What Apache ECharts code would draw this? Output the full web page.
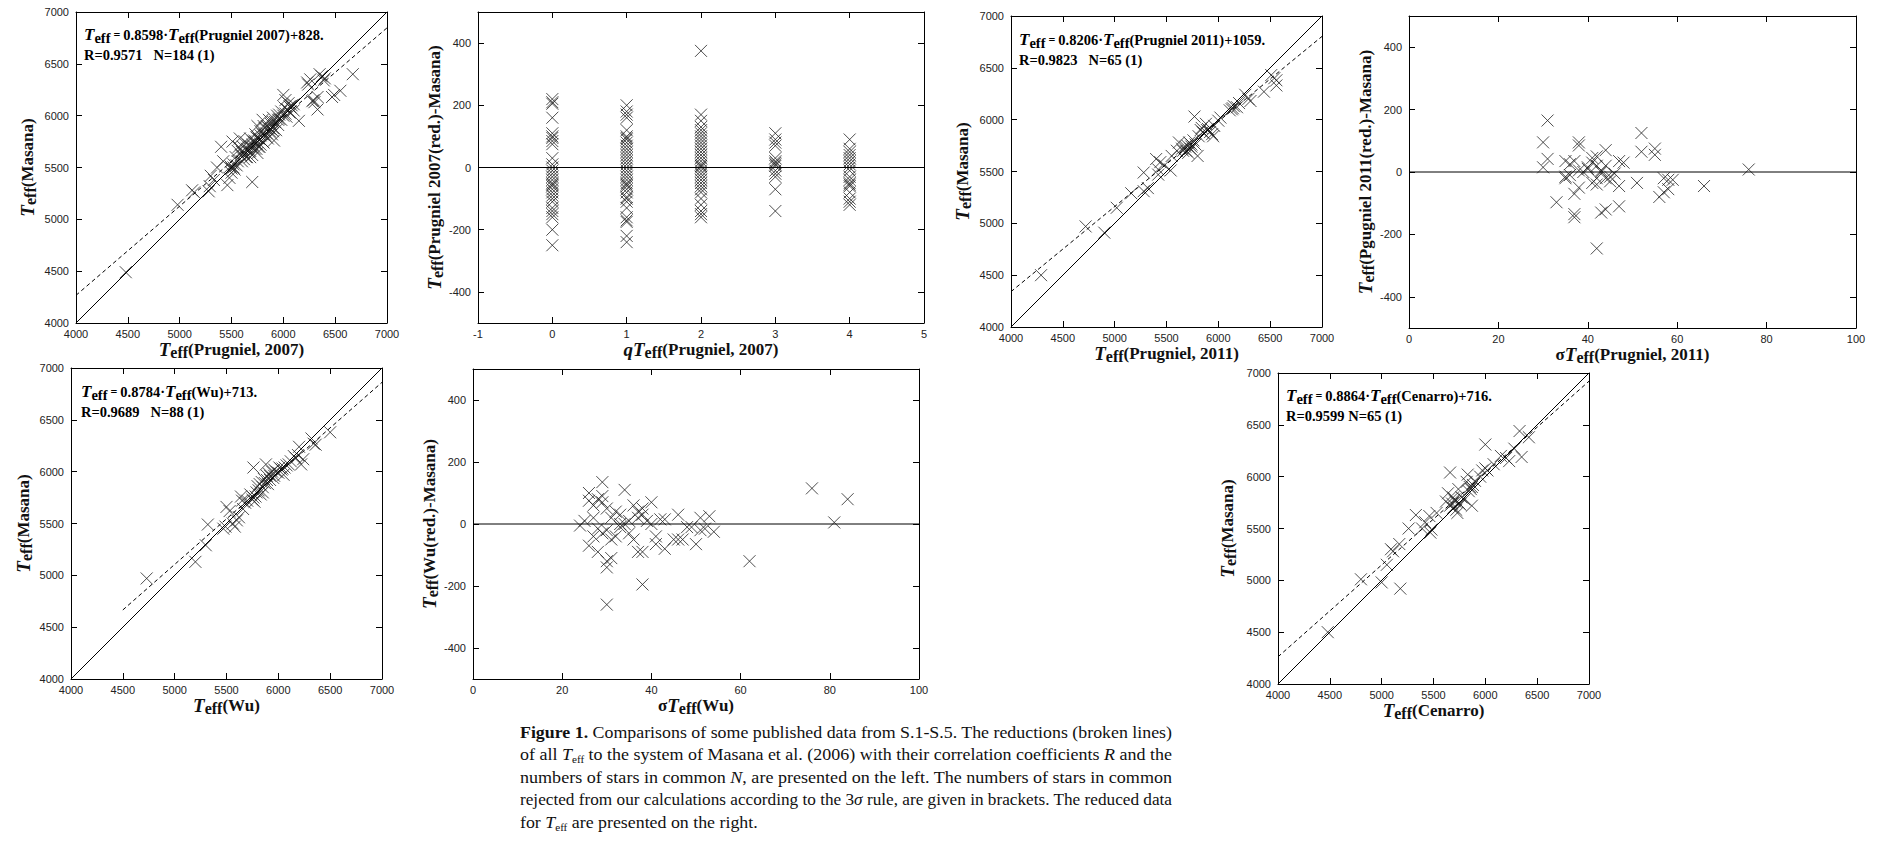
<!DOCTYPE html>
<html lang="en">
<head>
<meta charset="utf-8" />
<title>Figure 1. Teff comparisons</title>
<script src="https://cdn.jsdelivr.net/npm/echarts@6/dist/echarts.min.js"></script>
<style>
	html, body { margin: 0; padding: 0; background: #fff; }
	#chart { position: absolute; left: 0; top: 0; width: 1895px; height: 847px; }
	#caption { position: absolute; left: 520px; top: 721px; width: 700px;
		font-family: 'Liberation Serif', 'Times New Roman', serif; font-size: 17.5px; line-height: 22.4px; color: #111; }
	#caption div { white-space: nowrap; }
	#caption span.ln { display: inline-block; transform-origin: 0 0; }
	#caption sub { font-size: 0.62em; vertical-align: -0.25em; line-height: 0; }
</style>
</head>
<body>
<div id="chart"></div>
<div id="caption">
	<div><span class="ln"><b>Figure 1.</b> Comparisons of some published data from S.1-S.5. The reductions (broken lines)</span></div>
	<div><span class="ln">of all <i>T</i><sub>eff</sub> to the system of Masana et al. (2006) with their correlation coefficients <i>R</i> and the</span></div>
	<div><span class="ln">numbers of stars in common <i>N</i>, are presented on the left. The numbers of stars in common</span></div>
	<div><span class="ln">rejected from our calculations according to the 3<i>σ</i> rule, are given in brackets. The reduced data</span></div>
	<div><span class="ln">for <i>T</i><sub>eff</sub> are presented on the right.</span></div>
</div>
<script type="text/javascript">
// ---------- data ----------
// Teff(Prugniel 2007) vs Teff(Masana)
const prug07Points = [
	[4480,4490],[4980,5140],[5120,5280],[5140,5260],[5280,5270],[5290,5320],[5300,5420],[5330,5380],[5360,5500],
	[5400,5700],[5420,5560],[5460,5330],[5480,5400],[5490,5510],[5500,5450],[5510,5750],[5520,5530],[5530,5480],
	[5540,5600],[5550,5520],[5560,5660],[5570,5700],[5580,5780],[5590,5620],[5600,5560],[5610,5700],[5620,5640],
	[5630,5750],[5640,5600],[5650,5680],[5660,5720],[5670,5650],[5680,5780],[5690,5700],[5700,5360],[5700,5620],
	[5710,5750],[5720,5680],[5730,5820],[5740,5730],[5750,5900],[5750,5640],[5760,5780],[5770,5700],[5780,5850],
	[5790,5760],[5800,5820],[5800,5960],[5810,5740],[5820,5880],[5830,5800],[5840,5900],[5850,5780],[5860,5960],
	[5870,5850],[5880,5920],[5890,5820],[5900,5980],[5900,5880],[5910,5760],[5920,5940],[5930,5860],[5940,6000],
	[5950,5910],[5960,5970],[5980,6040],[6000,6200],[6000,6000],[6010,6080],[6020,6150],[6030,5990],[6040,6060],
	[6050,6120],[6060,6030],[6070,6080],[6080,6100],[6100,6050],[6150,5950],[6230,6320],[6260,6350],[6280,6140],
	[6290,6150],[6300,6130],[6330,6060],[6330,6180],[6350,6400],[6370,6380],[6390,6340],[6400,6360],[6470,6180],
	[6490,6200],[6550,6240],[6670,6400],[5650,5600],[5680,5660],[5720,5760],[5760,5700],[5800,5750],[5840,5830],
	[5880,5870],[5620,5580],[5700,5720],[5740,5790],[5780,5810],[5860,5880],[5900,5940],[5950,5960],[5500,5490],
	[5520,5500],[5560,5560],[5600,5650],[5740,5680],[5780,5720],[5820,5820],[5960,6010],[6020,6020],[6060,6090],
	[6100,6110],[6240,6300],[5680,5600],[5900,5850],[5980,5960],[5810,5900]
];
const prug07Fit = [[4000,4267],[7000,6847]];

// qTeff(Prugniel 2007) vs residual
const q0Resid = [220,210,205,160,110,100,95,85,75,30,10,0,-10,-20,-30,-40,-50,-55,-60,-70,-80,-90,-100,-110,-130,-140,-150,-160,-200,-250];
const q1Resid = [200,180,170,160,120,100,95,90,80,70,60,50,40,30,20,10,0,-10,-20,-30,-40,-50,-55,-60,-70,-80,-95,-100,-110,-130,-160,-170,-175,-220,-240];
const q2Resid = [375,170,150,130,120,110,100,90,80,70,60,50,40,30,20,10,5,0,-10,-20,-30,-40,-50,-60,-70,-80,-100,-120,-140,-150,-160];
const q3Resid = [110,90,80,70,30,20,15,10,5,-10,-20,-30,-70,-140];
const q4Resid = [90,60,50,40,30,20,10,0,-10,-30,-40,-50,-55,-60,-80,-100,-110,-120];
const qLevels = [0,1,2,3,4];

// Teff(Prugniel 2011) vs Teff(Masana)
const prug11Points = [
	[4290,4500],[4720,4970],[4900,4910],[5020,5150],[5160,5290],[5280,5490],[5280,5310],[5320,5340],[5400,5620],
	[5420,5470],[5420,5520],[5440,5590],[5480,5560],[5540,5510],[5550,5650],[5600,5700],[5620,5780],[5650,5720],
	[5680,5740],[5690,5700],[5700,5750],[5710,5680],[5720,5780],[5730,5720],[5740,5760],[5760,5800],[5770,6030],
	[5780,5760],[5800,5650],[5810,5840],[5830,5900],[5840,5920],[5860,5870],[5880,5960],[5900,5910],[5920,5880],
	[5940,5860],[5950,5840],[5960,5940],[6000,5990],[6020,6020],[6110,6090],[6130,6100],[6150,6130],[6180,6120],
	[6200,6160],[6260,6240],[6290,6200],[6310,6180],[6440,6270],[6510,6430],[6540,6400],[6560,6330],[6560,6380],
	[5660,5700],[5740,5740],[5850,5880],[5890,5900],[6140,6110]
];
const prug11Fit = [[4000,4341],[7000,6803]];

// sigma Teff(Prugniel 2011) vs residual
const sig11Points = [
	[31,165],[30,95],[31,42],[30,15],[33,-97],[35,35],[35,-15],[35,-20],[36,25],[36,-10],[37,35],[37,-70],
	[37,-135],[37,-145],[38,95],[38,85],[38,-50],[38,5],[39,0],[40,15],[40,10],[41,45],[41,30],[41,-35],
	[42,50],[42,20],[42,-20],[42,-40],[42,-245],[43,5],[43,0],[43,-130],[44,70],[44,20],[44,-20],[44,-120],
	[45,-15],[45,-30],[46,-5],[47,35],[47,-45],[47,-110],[48,30],[51,-35],[52,125],[52,65],[55,75],[55,55],
	[56,-80],[57,-20],[57,-65],[58,-55],[58,-25],[59,-25],[66,-45],[76,8]
];

// Teff(Wu) vs Teff(Masana)
const wuPoints = [
	[4730,4970],[5200,5130],[5300,5290],[5320,5490],[5470,5450],[5490,5470],[5500,5660],[5530,5620],[5560,5500],
	[5580,5470],[5600,5530],[5620,5560],[5640,5760],[5650,5720],[5660,5640],[5680,5700],[5700,5720],[5730,5780],
	[5760,6040],[5760,5750],[5780,5760],[5790,5800],[5800,5860],[5810,5820],[5820,5880],[5830,5780],[5840,5900],
	[5850,5850],[5860,5930],[5870,5890],[5880,6070],[5890,5960],[5900,5880],[5910,5980],[5920,5920],[5940,6000],
	[5960,5960],[5980,6000],[6000,5990],[6010,6040],[6030,6020],[6050,5970],[6060,6040],[6080,6060],[6100,6070],
	[6120,6100],[6150,6150],[6170,6130],[6190,6160],[6200,6240],[6220,6070],[6240,6120],[6320,6320],[6340,6270],
	[6360,6260],[6500,6380],[5750,5730],[5770,5710],[5850,5800],[5890,5920],[5920,5960],[5950,5940],[6040,6030],
	[5960,6020]
];
const wuFit = [[4500,4666],[7000,6862]];

// sigma Teff(Wu) vs residual
const sigWuPoints = [
	[24,-5],[25,10],[26,100],[26,75],[26,-70],[27,60],[27,-40],[27,20],[28,-90],[28,80],[28,-15],[29,135],
	[29,90],[29,70],[29,-30],[30,-20],[30,-120],[30,-140],[30,-260],[30,50],[31,-110],[31,20],[31,-50],[32,40],
	[32,-40],[33,30],[33,0],[33,-10],[34,110],[34,0],[35,-30],[35,10],[36,60],[36,-50],[37,20],[37,-90],
	[37,40],[38,50],[38,-90],[38,-195],[38,30],[39,10],[40,70],[40,0],[41,-40],[41,-65],[42,15],[43,-80],
	[43,15],[45,-50],[46,30],[46,-50],[47,-50],[48,-10],[49,-10],[50,-65],[51,20],[51,-20],[52,-15],[53,25],
	[54,-25],[62,-120],[76,115],[81,5],[84,80]
];

// Teff(Cenarro) vs Teff(Masana)
const cenPoints = [
	[4480,4500],[4800,5010],[5000,4980],[5050,5150],[5090,5300],[5110,5280],[5170,5350],[5180,4920],[5260,5500],
	[5330,5630],[5390,5500],[5420,5560],[5460,5620],[5470,5460],[5480,5490],[5530,5650],[5620,5760],[5640,5840],
	[5660,6040],[5660,5720],[5680,5740],[5690,5700],[5700,5780],[5710,5760],[5720,5680],[5730,5650],[5740,5880],
	[5750,5740],[5770,5800],[5800,5780],[5820,5950],[5830,6020],[5840,5860],[5850,5900],[5860,5880],[5870,5720],
	[5880,5920],[5900,5960],[5950,6000],[5970,6060],[6000,6310],[6000,6080],[6020,6060],[6080,6120],[6150,6200],
	[6200,6180],[6230,6150],[6280,6270],[6330,6440],[6350,6190],[6420,6380],[5760,5730],[5690,5800],[5870,5900]
];
const cenFit = [[4000,4262],[7000,6921]];

const oneToOne = [[4000,4000],[7000,7000]];
const residTicks = [-400,-200,0,200,400];

// ---------- chart ----------
const SERIF = "'Liberation Serif', 'Times New Roman', serif";
const SANS = "'Liberation Sans', Arial, sans-serif";
const INK = '#111';

const nameRich = {
	i: { fontFamily: SERIF, fontStyle: 'italic', fontWeight: 'bold', fontSize: 19, color: INK },
	s: { fontFamily: SERIF, fontWeight: 'bold', fontSize: 16, color: INK, padding: [6, 0, 0, 0] },
	n: { fontFamily: SERIF, fontWeight: 'bold', fontSize: 17, color: INK }
};
const noteRich = {
	i: { fontFamily: SERIF, fontStyle: 'italic', fontWeight: 'bold', fontSize: 17, color: INK, lineHeight: 20 },
	s: { fontFamily: SERIF, fontWeight: 'bold', fontSize: 14.5, color: INK, lineHeight: 20, padding: [6, 0, 0, 0] },
	n: { fontFamily: SERIF, fontWeight: 'bold', fontSize: 14.5, color: INK, lineHeight: 20 },
	e: { fontFamily: SERIF, fontWeight: 'bold', fontSize: 12, color: INK, lineHeight: 20 }
};

function teff(pre, rest) {
	return pre + '{i|T}{s|eff}{n|' + rest + '}';
}
function plain(v) { return String(v); }

const cross = 'path://M0,0L10,10M10,0L0,10';

const panels = [
	{ grid: { left: 76, top: 12, width: 311, height: 311 }, kind: 'cmp',
		xName: teff('', '(Prugniel, 2007)'), yName: teff('', '(Masana)'), yGap: 38 },
	{ grid: { left: 478, top: 12, width: 446, height: 311 }, kind: 'q',
		xName: '{i|qT}{s|eff}{n|(Prugniel, 2007)}', yName: teff('', '(Prugniel 2007(red.)-Masana)'), yGap: 30 },
	{ grid: { left: 1011, top: 16, width: 311, height: 311 }, kind: 'cmp',
		xName: teff('', '(Prugniel, 2011)'), yName: teff('', '(Masana)'), yGap: 38 },
	{ grid: { left: 1409, top: 16, width: 447, height: 312 }, kind: 'sig',
		xName: '{n|σ}' + teff('', '(Prugniel, 2011)'), yName: teff('', '(Pgugniel 2011(red.)-Masana)'), yGap: 31 },
	{ grid: { left: 71, top: 368, width: 311, height: 311 }, kind: 'cmp',
		xName: teff('', '(Wu)'), yName: teff('', '(Masana)'), yGap: 37 },
	{ grid: { left: 473, top: 369, width: 446, height: 310 }, kind: 'sig',
		xName: '{n|σ}' + teff('', '(Wu)'), yName: teff('', '(Wu(red.)-Masana)'), yGap: 30 },
	{ grid: { left: 1278, top: 373, width: 311, height: 311 }, kind: 'cmp',
		xName: teff('', '(Cenarro)'), yName: teff('', '(Masana)'), yGap: 40 }
];

const ranges = {
	cmp: { x: { min: 4000, max: 7000, interval: 500 }, y: { min: 4000, max: 7000, interval: 500 } },
	q:   { x: { min: -1, max: 5, interval: 1 }, y: { min: -500, max: 500, custom: residTicks } },
	sig: { x: { min: 0, max: 100, interval: 20 }, y: { min: -500, max: 500, custom: residTicks } }
};

const xAxes = [], yAxes = [];
panels.forEach(function(p, gi) {
	const r = ranges[p.kind];
	['bottom', 'top'].forEach(function(pos) {
		xAxes.push({
			type: 'value', gridIndex: gi, position: pos,
			min: r.x.min, max: r.x.max, interval: r.x.interval,
			name: pos === 'bottom' ? p.xName : '', nameLocation: 'middle', nameGap: 15,
			nameTextStyle: { rich: nameRich },
			axisLine: { onZero: false, lineStyle: { color: '#000', width: 1 } },
			axisTick: { inside: true, length: 6, lineStyle: { color: '#000' } },
			axisLabel: { show: pos === 'bottom', margin: 5, fontFamily: SANS, fontSize: 11, color: '#222', formatter: plain },
			splitLine: { show: false }
		});
	});
	['left', 'right'].forEach(function(pos) {
		const ax = {
			type: 'value', gridIndex: gi, position: pos,
			min: r.y.min, max: r.y.max,
			name: pos === 'left' ? p.yName : '', nameLocation: 'middle', nameGap: p.yGap, nameRotate: 90,
			nameTextStyle: { rich: nameRich },
			axisLine: { onZero: false, lineStyle: { color: '#000', width: 1 } },
			axisTick: { inside: true, length: 6, lineStyle: { color: '#000' } },
			axisLabel: { show: pos === 'left', margin: 7, fontFamily: SANS, fontSize: 11, color: '#222', formatter: plain },
			splitLine: { show: false }
		};
		if (r.y.custom) {
			ax.axisTick.customValues = r.y.custom;
			ax.axisLabel.customValues = r.y.custom;
		} else {
			ax.interval = r.y.interval;
		}
		yAxes.push(ax);
	});
});

const markStyle = { color: 'rgba(0,0,0,0)', borderColor: '#222', borderWidth: 1 };

function scatter(gi, data) {
	return { type: 'scatter', xAxisIndex: gi * 2, yAxisIndex: gi * 2, data: data,
		symbol: cross, symbolSize: 12, itemStyle: markStyle, silent: true, animation: false };
}
function line(gi, data, dashed) {
	return { type: 'line', xAxisIndex: gi * 2, yAxisIndex: gi * 2, data: data, symbol: 'none',
		lineStyle: { color: '#000', width: 1, type: dashed ? [4, 3] : 'solid' }, silent: true, animation: false };
}
function column(level, values) {
	return values.map(function(v) { return [level, v]; });
}

const qPoints = [].concat(
	column(qLevels[0], q0Resid), column(qLevels[1], q1Resid), column(qLevels[2], q2Resid),
	column(qLevels[3], q3Resid), column(qLevels[4], q4Resid)
);

const series = [
	line(0, oneToOne, false), line(0, prug07Fit, true), scatter(0, prug07Points),
	line(1, [[-1, 0], [5, 0]], false), scatter(1, qPoints),
	line(2, oneToOne, false), line(2, prug11Fit, true), scatter(2, prug11Points),
	line(3, [[0, 0], [100, 0]], false), scatter(3, sig11Points),
	line(4, oneToOne, false), line(4, wuFit, true), scatter(4, wuPoints),
	line(5, [[0, 0], [100, 0]], false), scatter(5, sigWuPoints),
	line(6, oneToOne, false), line(6, cenFit, true), scatter(6, cenPoints)
];

function note(left, top, src, coef, rn) {
	return {
		type: 'text', left: left, top: top, silent: true,
		style: {
			text: '{i|T}{s|eff}{e| = }{n|' + coef + '·}{i|T}{s|eff}{n|' + src + '}\n{n|' + rn + '}',
			rich: noteRich
		}
	};
}

const chart = echarts.init(document.getElementById('chart'), null, { renderer: 'svg' });
chart.setOption({
	backgroundColor: '#fff',
	animation: false,
	grid: panels.map(function(p) { return p.grid; }),
	xAxis: xAxes,
	yAxis: yAxes,
	series: series,
	graphic: [
		note(84, 24, '(Prugniel 2007)+828.', '0.8598', 'R=0.9571   N=184 (1)'),
		note(1019, 29, '(Prugniel 2011)+1059.', '0.8206', 'R=0.9823   N=65 (1)'),
		note(81, 381, '(Wu)+713.', '0.8784', 'R=0.9689   N=88 (1)'),
		note(1286, 385, '(Cenarro)+716.', '0.8864', 'R=0.9599 N=65 (1)')
	]
});

// fit each caption line to the printed column width (justified block)
(function() {
	const target = 652;
	const lines = document.querySelectorAll('#caption span.ln');
	let firstScale = 1;
	lines.forEach(function(el, k) {
		const w = el.getBoundingClientRect().width;
		let s = target / w;
		if (k === 0) firstScale = s;
		if (k === lines.length - 1) s = firstScale;
		el.style.transform = 'scaleX(' + s + ')';
	});
})();

window.onresize = function() { chart.resize(); };
</script>
</body>
</html>
